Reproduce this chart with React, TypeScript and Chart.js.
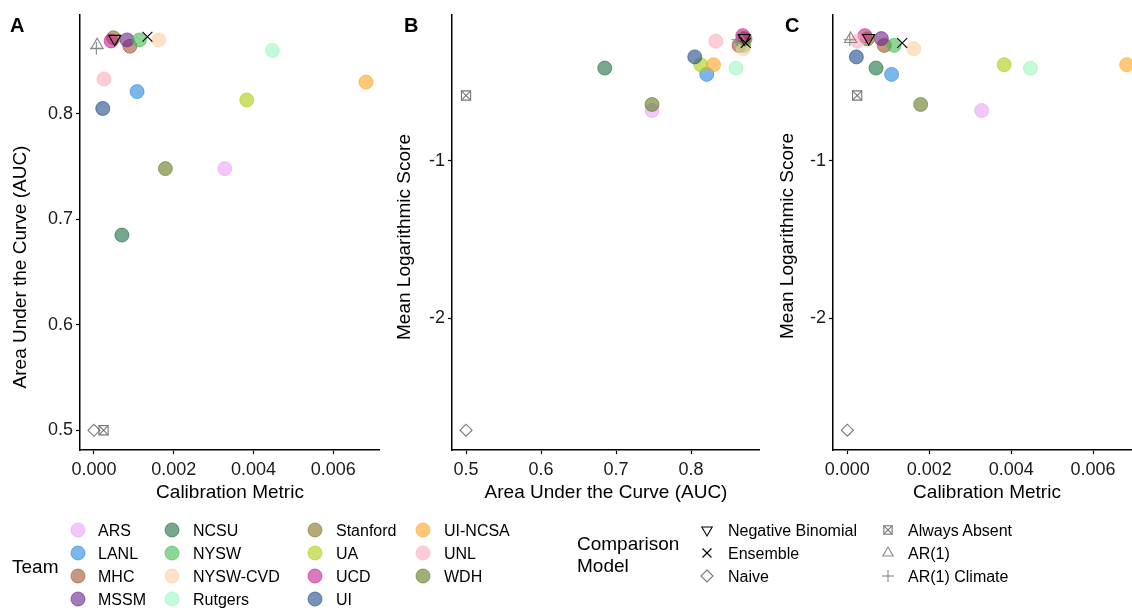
import React, { useEffect, useRef } from "react";
import { Chart, registerables } from "chart.js";

Chart.register(...registerables);

// ---------------- DATA ----------------
const teams = ["ARS", "LANL", "MHC", "MSSM", "NCSU", "NYSW", "NYSW-CVD", "Rutgers", "Stanford", "UA", "UCD", "UI", "UI-NCSA", "UNL", "WDH"];
const teamCalibration = [0.00328, 0.00108, 0.0009, 0.00083, 0.0007, 0.00114, 0.00162, 0.00447, 0.00049, 0.00383, 0.00043, 0.00022, 0.00682, 0.00025, 0.00179];
const teamAUC = [0.748, 0.821, 0.864, 0.87, 0.685, 0.87, 0.87, 0.86, 0.872, 0.813, 0.869, 0.805, 0.83, 0.833, 0.748];
const teamLogScore = [-0.68, -0.451, -0.267, -0.224, -0.411, -0.267, -0.288, -0.412, -0.226, -0.39, -0.205, -0.34, -0.39, -0.24, -0.642];

const models = ["Negative Binomial", "Ensemble", "Naive", "Always Absent", "AR(1)", "AR(1) Climate"];
const modelCalibration = [0.00052, 0.00134, 0.0, 0.00024, 0.00008, 0.00006];
const modelAUC = [0.871, 0.873, 0.5, 0.5, 0.865, 0.862];
const modelLogScore = [-0.22, -0.252, -2.71, -0.585, -0.226, -0.231];

const calibrationTicks = [0, 0.002, 0.004, 0.006];
const aucTicks = [0.5, 0.6, 0.7, 0.8];
const logTicks = [-2, -1];

// ---------------- STYLE ----------------
const FONT = '"Liberation Sans", Arial, Helvetica, sans-serif';
const ALPHA = 0.6;
const teamColors = ["#e9a3f7", "#2189df", "#a0522d", "#68228b", "#1a6e40", "#3fbc50", "#ffcda3", "#9bf7bc", "#82711e", "#accd0d", "#c51e93", "#1e488a", "#ffa31e", "#ffacbc", "#617a1e"];
const modelStyles = [
  { style: "triangle", rotation: 180, r: 7, color: "#000000" },
  { style: "crossRot", rotation: 0, r: 7, color: "#000000" },
  { style: "rectRot", rotation: 0, r: 6, color: "#777777" },
  { style: "rect+crossRot", rotation: 0, r: 6.5, color: "#777777" },
  { style: "triangle", rotation: 0, r: 7, color: "#888888" },
  { style: "cross", rotation: 0, r: 6.3, color: "#888888" },
];

function rgba(hex: string, a: number) {
  const n = parseInt(hex.slice(1), 16);
  return `rgba(${(n >> 16) & 255},${(n >> 8) & 255},${n & 255},${a})`;
}

function buildDatasets(tx: number[], ty: number[], mx: number[], my: number[]) {
  const ds: any[] = [];
  models.forEach((m, j) => {
    const s = modelStyles[j];
    const styles = s.style === "rect+crossRot" ? ["rect", "crossRot"] : [s.style];
    styles.forEach((ps) => {
      ds.push({
        label: m,
        data: [{ x: mx[j], y: my[j] }],
        pointStyle: ps,
        rotation: s.rotation,
        pointRadius: s.r,
        borderColor: s.color,
        backgroundColor: "rgba(0,0,0,0)",
        borderWidth: 1.1,
        order: 0,
        clip: false,
      });
    });
  });
  teams.forEach((t, i) => {
    ds.push({
      label: t,
      data: [{ x: tx[i], y: ty[i] }],
      pointStyle: "circle",
      pointRadius: 7,
      backgroundColor: rgba(teamColors[i], ALPHA),
      borderColor: rgba(teamColors[i], ALPHA),
      borderWidth: 1,
      order: 1 + (teams.length - i),
      clip: false,
    });
  });
  return ds;
}

function axis(min: number, max: number, ticks: number[], fmt: (v: number) => string, isX: boolean, size: number, title?: string) {
  return {
    type: "linear",
    position: isX ? "bottom" : "left",
    min,
    max,
    afterBuildTicks: (s: any) => {
      s.ticks = ticks.map((v) => ({ value: v }));
    },
    afterFit: (s: any) => {
      if (isX) {
        s.height = size;
        s.paddingLeft = 0;
        s.paddingRight = 0;
      } else {
        s.width = size;
        s.paddingTop = 0;
        s.paddingBottom = 0;
      }
    },
    ticks: {
      callback: (v: any) => fmt(Number(v)),
      font: { family: FONT, size: 18 },
      color: "#1a1a1a",
      padding: isX ? 5 : 3,
      maxRotation: 0,
      autoSkip: false,
    },
    grid: {
      drawOnChartArea: false,
      drawTicks: true,
      tickLength: 4,
      tickColor: "#000",
      tickWidth: 1.2,
      color: "#000",
    },
    border: { display: true, color: "#000", width: 1.5 },
    title: title
      ? { display: true, text: title, font: { family: FONT, size: 19 }, color: "#000", padding: { top: 0, bottom: 7 } }
      : { display: false },
  };
}

type PanelProps = {
  left: number;
  width: number;
  yAxisWidth: number;
  tx: number[];
  ty: number[];
  mx: number[];
  my: number[];
  xMin: number;
  xMax: number;
  xTicks: number[];
  xFmt: (v: number) => string;
  xTitle: string;
  yMin: number;
  yMax: number;
  yTicks: number[];
  yFmt: (v: number) => string;
};

function Panel(p: PanelProps) {
  const ref = useRef<HTMLCanvasElement | null>(null);
  useEffect(() => {
    if (!ref.current) return;
    const chart = new Chart(ref.current, {
      type: "scatter",
      data: { datasets: buildDatasets(p.tx, p.ty, p.mx, p.my) },
      options: {
        animation: false,
        responsive: false,
        maintainAspectRatio: false,
        layout: { autoPadding: false, padding: { top: 15, left: 0, right: 0, bottom: 0 } },
        plugins: { legend: { display: false }, tooltip: { enabled: false } },
        scales: {
          x: axis(p.xMin, p.xMax, p.xTicks, p.xFmt, true, 61, p.xTitle),
          y: axis(p.yMin, p.yMax, p.yTicks, p.yFmt, false, p.yAxisWidth),
        } as any,
      } as any,
    });
    return () => chart.destroy();
  }, []);
  return (
    <canvas
      ref={ref}
      width={p.width}
      height={511}
      style={{ position: "absolute", left: p.left, top: 0, width: p.width, height: 511 }}
    />
  );
}

function YTitle({ text, cx, cy }: { text: string; cx: number; cy: number }) {
  const w = 300;
  return (
    <div
      style={{
        position: "absolute",
        left: cx - w / 2,
        top: cy - 11,
        width: w,
        height: 22,
        lineHeight: "22px",
        textAlign: "center",
        fontFamily: FONT,
        fontSize: 19,
        color: "#000",
        transform: "rotate(-90deg)",
        transformOrigin: "50% 50%",
        whiteSpace: "nowrap",
      }}
    >
      {text}
    </div>
  );
}

function PanelLabel({ text, left }: { text: string; left: number }) {
  return (
    <div
      style={{
        position: "absolute",
        left,
        top: 15,
        fontFamily: FONT,
        fontWeight: "bold",
        fontSize: 20,
        lineHeight: "20px",
        color: "#000",
      }}
    >
      {text}
    </div>
  );
}

function ModelSymbol({ j, cx, cy }: { j: number; cx: number; cy: number }) {
  const c = modelStyles[j].color;
  const sw = 1.1;
  if (j === 0)
    return <polygon points={`${cx - 5.2},${cy - 3} ${cx + 5.2},${cy - 3} ${cx},${cy + 6}`} fill="none" stroke={c} strokeWidth={sw} />;
  if (j === 1)
    return (
      <g stroke={c} strokeWidth={sw}>
        <line x1={cx - 4.5} y1={cy - 4.5} x2={cx + 4.5} y2={cy + 4.5} />
        <line x1={cx - 4.5} y1={cy + 4.5} x2={cx + 4.5} y2={cy - 4.5} />
      </g>
    );
  if (j === 2)
    return <polygon points={`${cx},${cy - 6} ${cx + 6},${cy} ${cx},${cy + 6} ${cx - 6},${cy}`} fill="none" stroke={c} strokeWidth={sw} />;
  if (j === 3)
    return (
      <g stroke={c} strokeWidth={sw} fill="none">
        <rect x={cx - 4.2} y={cy - 4.2} width={8.4} height={8.4} />
        <line x1={cx - 4.2} y1={cy - 4.2} x2={cx + 4.2} y2={cy + 4.2} />
        <line x1={cx - 4.2} y1={cy + 4.2} x2={cx + 4.2} y2={cy - 4.2} />
      </g>
    );
  if (j === 4)
    return <polygon points={`${cx - 5.2},${cy + 3} ${cx + 5.2},${cy + 3} ${cx},${cy - 6}`} fill="none" stroke={c} strokeWidth={sw} />;
  return (
    <g stroke={c} strokeWidth={sw}>
      <line x1={cx - 6} y1={cy} x2={cx + 6} y2={cy} />
      <line x1={cx} y1={cy - 6} x2={cx} y2={cy + 6} />
    </g>
  );
}

function Legend() {
  const rowY = [530, 553, 576, 599];
  const teamCircleX = [78, 172, 315, 423];
  const teamTextX = [98, 193, 336, 444];
  const modelSymX = [707, 888];
  const modelTextX = [728, 908];
  return (
    <svg
      width={1132}
      height={611}
      style={{ position: "absolute", left: 0, top: 0, pointerEvents: "none" }}
      fontFamily={FONT}
    >
      <text x={12} y={566} fontSize={19} dominantBaseline="central" fill="#000">
        Team
      </text>
      {teams.map((t, i) => {
        const col = Math.floor(i / 4);
        const row = i % 4;
        return (
          <g key={t}>
            <circle cx={teamCircleX[col]} cy={rowY[row]} r={7} fill={rgba(teamColors[i], ALPHA)} stroke={rgba(teamColors[i], ALPHA)} strokeWidth={1} />
            <text x={teamTextX[col]} y={rowY[row]} fontSize={16} dominantBaseline="central" fill="#000">
              {t}
            </text>
          </g>
        );
      })}
      <text x={577} y={543} fontSize={19} dominantBaseline="central" fill="#000">
        Comparison
      </text>
      <text x={577} y={565} fontSize={19} dominantBaseline="central" fill="#000">
        Model
      </text>
      {models.map((m, j) => {
        const col = Math.floor(j / 3);
        const row = j % 3;
        return (
          <g key={m}>
            <ModelSymbol j={j} cx={modelSymX[col]} cy={rowY[row]} />
            <text x={modelTextX[col]} y={rowY[row]} fontSize={16} dominantBaseline="central" fill="#000">
              {m}
            </text>
          </g>
        );
      })}
    </svg>
  );
}

export default function App() {
  const f3 = (v: number) => v.toFixed(3);
  const f1 = (v: number) => v.toFixed(1);
  const f0 = (v: number) => String(v);
  return (
    <div
      style={{
        position: "fixed",
        left: 0,
        top: 0,
        width: 1132,
        height: 611,
        overflow: "hidden",
        background: "#fff",
      }}
    >
      <Panel
        left={0}
        width={380}
        yAxisWidth={80}
        tx={teamCalibration}
        ty={teamAUC}
        mx={modelCalibration}
        my={modelAUC}
        xMin={-0.00035}
        xMax={0.00717}
        xTicks={calibrationTicks}
        xFmt={f3}
        xTitle="Calibration Metric"
        yMin={0.4813}
        yMax={0.8936}
        yTicks={aucTicks}
        yFmt={f1}
      />
      <Panel
        left={380}
        width={380}
        yAxisWidth={72}
        tx={teamAUC}
        ty={teamLogScore}
        mx={modelAUC}
        my={modelLogScore}
        xMin={0.4813}
        xMax={0.892}
        xTicks={aucTicks}
        xFmt={f1}
        xTitle="Area Under the Curve (AUC)"
        yMin={-2.836}
        yMax={-0.074}
        yTicks={logTicks}
        yFmt={f0}
      />
      <Panel
        left={760}
        width={381}
        yAxisWidth={73}
        tx={teamCalibration}
        ty={teamLogScore}
        mx={modelCalibration}
        my={modelLogScore}
        xMin={-0.00035}
        xMax={0.00717}
        xTicks={calibrationTicks}
        xFmt={f3}
        xTitle="Calibration Metric"
        yMin={-2.836}
        yMax={-0.074}
        yTicks={logTicks}
        yFmt={f0}
      />
      <YTitle text="Area Under the Curve (AUC)" cx={20} cy={267} />
      <YTitle text="Mean Logarithmic Score" cx={404} cy={237} />
      <YTitle text="Mean Logarithmic Score" cx={787} cy={236} />
      <PanelLabel text="A" left={10} />
      <PanelLabel text="B" left={404} />
      <PanelLabel text="C" left={785} />
      <Legend />
    </div>
  );
}
